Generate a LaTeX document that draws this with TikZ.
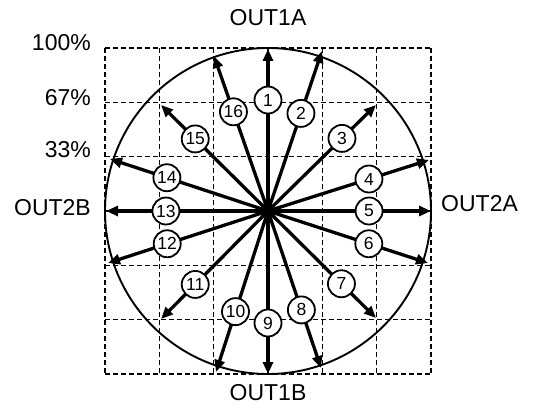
\documentclass[tikz,border=0pt]{standalone}
\usepackage{fontspec}
\setmainfont{Liberation Sans}
\usetikzlibrary{arrows.meta}
\begin{document}
\begin{tikzpicture}[x=1pt,y=-1pt,
  gridline/.style={line width=1.3pt, dash pattern=on 5pt off 3pt},
  ring/.style={line width=1.9pt},
  vec/.style={line width=3.3pt, -{Triangle[length=12pt,width=10pt]}},
  lab/.style={circle, draw, line width=1.8pt, fill=white, minimum size=27pt, inner sep=0pt, font=\fontsize{17.5}{17.5}\selectfont},
  big/.style={font=\fontsize{23}{23}\selectfont, inner sep=0pt}]
\useasboundingbox (0,0) rectangle (535,409);
% grid
\foreach \i in {0,...,6} {
  \draw[gridline] ({105+\i*54.333},48) -- ({105+\i*54.333},374);
  \draw[gridline] (105,{48+\i*54.333}) -- (431,{48+\i*54.333});
}
\coordinate (O) at (268,211);
\draw[ring] (O) circle (163);
% arrow tips
\coordinate (t1) at (268,49);
\coordinate (t2) at (322,51);
\coordinate (t3) at (376,105);
\coordinate (t4) at (429,160);
\coordinate (t5) at (431,211);
\coordinate (t6) at (428,263);
\coordinate (t7) at (376,318);
\coordinate (t8) at (321,368);
\coordinate (t9) at (268,374);
\coordinate (t10) at (216,372);
\coordinate (t11) at (161,319);
\coordinate (t12) at (108,263);
\coordinate (t13) at (106,211);
\coordinate (t14) at (110,159);
\coordinate (t15) at (161,105);
\coordinate (t16) at (214,56);
\foreach \k in {1,...,16} { \draw[vec] (O) -- (t\k); }
% labels on arrows
\path (O) -- (t1)  node[lab,pos=0.685] (l1)  {1};
\path (O) -- (t2)  node[lab,pos=0.61]  (l2)  {2};
\path (O) -- (t3)  node[lab,pos=0.685] (l3)  {3};
\path (O) -- (t4)  node[lab,pos=0.627] (l4)  {4};
\path (O) -- (t5)  node[lab,pos=0.62]  (l5)  {5};
\path (O) -- (t6)  node[lab,pos=0.63]  (l6)  {6};
\path (O) -- (t7)  node[lab,pos=0.68]  (l7)  {7};
\path (O) -- (t8)  node[lab,pos=0.63]  (l8)  {8};
\path (O) -- (t9)  node[lab,pos=0.687] (l9)  {9};
\path (O) -- (t10) node[lab,pos=0.625] (l10) {10};
\path (O) -- (t11) node[lab,pos=0.68]  (l11) {11};
\path (O) -- (t12) node[lab,pos=0.63]  (l12) {12};
\path (O) -- (t13) node[lab,pos=0.63]  (l13) {13};
\path (O) -- (t14) node[lab,pos=0.64]  (l14) {14};
\path (O) -- (t15) node[lab,pos=0.68]  (l15) {15};
\path (O) -- (t16) node[lab,pos=0.64]  (l16) {16};
% outer texts
\node[big] (o1a) at (268,18) {OUT1A};
\node[big] (o1b) at (268,393) {OUT1B};
\node[big,anchor=west] (o2a) at (441,204) {OUT2A};
\node[big,anchor=east] (o2b) at (91,208) {OUT2B};
\node[big,anchor=east] (p100) at (91,43) {100\%};
\node[big,anchor=east] (p67) at (91,98) {67\%};
\node[big,anchor=east] (p33) at (91,150) {33\%};
\end{tikzpicture}
\end{document}
